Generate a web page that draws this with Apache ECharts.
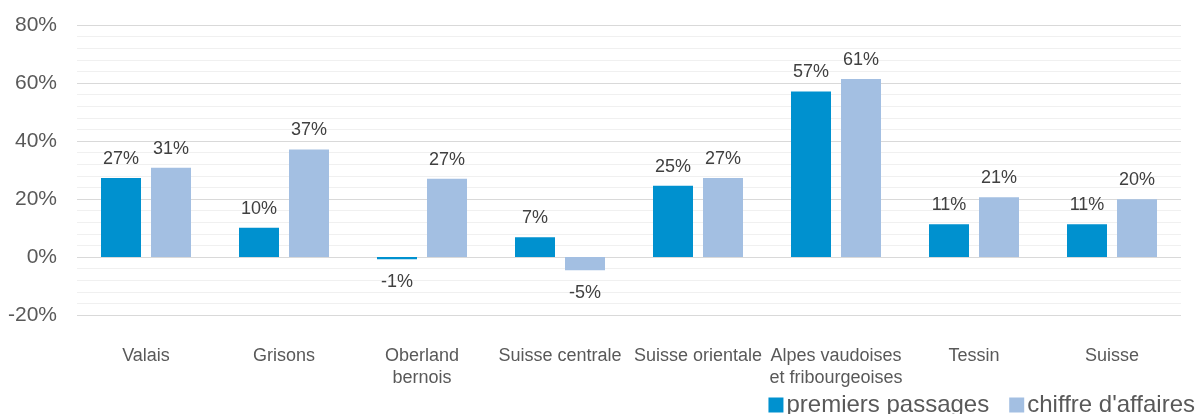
<!DOCTYPE html>
<html>
<head>
<meta charset="utf-8">
<script src="https://cdn.jsdelivr.net/npm/echarts@6/dist/echarts.min.js"></script>
<style>
  html, body { margin: 0; padding: 0; background: #fff; }
  #container { width: 1195px; height: 414px; }
</style>
</head>
<body>
<div id="container"></div>
<script>
var regions = ['Valais', 'Grisons', 'Oberland\nbernois', 'Suisse centrale', 'Suisse orientale',
  'Alpes vaudoises\net fribourgeoises', 'Tessin', 'Suisse'];
var premiersPassages = [27.2, 10.1, -0.8, 6.8, 24.6, 57.1, 11.3, 11.3];
var chiffreAffaires = [30.8, 37.1, 27.0, -4.6, 27.2, 61.4, 20.6, 19.9];
var yTicks = [-20, 0, 20, 40, 60, 80];

var dom = document.getElementById('container');
var myChart = echarts.init(dom);

function withLabels(values) {
  return values.map(function (v) {
    return {
      value: v,
      label: { position: v < 0 ? 'bottom' : 'top', distance: v < 0 ? 14 : 10 }
    };
  });
}

var option = {
  animation: false,
  textStyle: { fontFamily: 'Liberation Sans, Arial, sans-serif' },
  color: ['#0091cf', '#a3bfe2'],
  grid: { left: 77, right: 14, top: 25, bottom: 99, containLabel: false },
  legend: {
    right: 0,
    top: 393,
    padding: 0,
    itemWidth: 15,
    itemHeight: 15,
    itemGap: 20,
    icon: 'rect',
    textStyle: { fontSize: 24, color: '#595959', padding: [0, 0, 0, -2] },
    data: ['premiers passages', "chiffre d'affaires"]
  },
  xAxis: {
    type: 'category',
    data: regions,
    axisLine: { show: false, onZero: false },
    axisTick: { show: false },
    axisLabel: { color: '#595959', fontSize: 18, margin: 30, lineHeight: 22, interval: 0 }
  },
  yAxis: {
    type: 'value',
    min: yTicks[0],
    max: yTicks[yTicks.length - 1],
    interval: 20,
    axisLine: { show: false },
    axisTick: { show: false },
    axisLabel: {
      color: '#595959', fontSize: 21, margin: 20,
      formatter: function (v) { return v + '%'; }
    },
    splitLine: { lineStyle: { color: '#d9d9d9', width: 1 } },
    minorTick: { show: false, splitNumber: 5 },
    minorSplitLine: { show: true, lineStyle: { color: '#f0f0f0', width: 1 } }
  },
  series: [{
    name: 'premiers passages',
    type: 'bar',
    barWidth: 40,
    barGap: '25%',
    data: withLabels(premiersPassages),
    label: {
      show: true, color: '#404040', fontSize: 18,
      formatter: function (p) { return Math.round(p.value) + '%'; }
    }
  }, {
    name: "chiffre d'affaires",
    type: 'bar',
    barWidth: 40,
    barGap: '25%',
    data: withLabels(chiffreAffaires),
    label: {
      show: true, color: '#404040', fontSize: 18,
      formatter: function (p) { return Math.round(p.value) + '%'; }
    }
  }]
};

myChart.setOption(option);
</script>
</body>
</html>
